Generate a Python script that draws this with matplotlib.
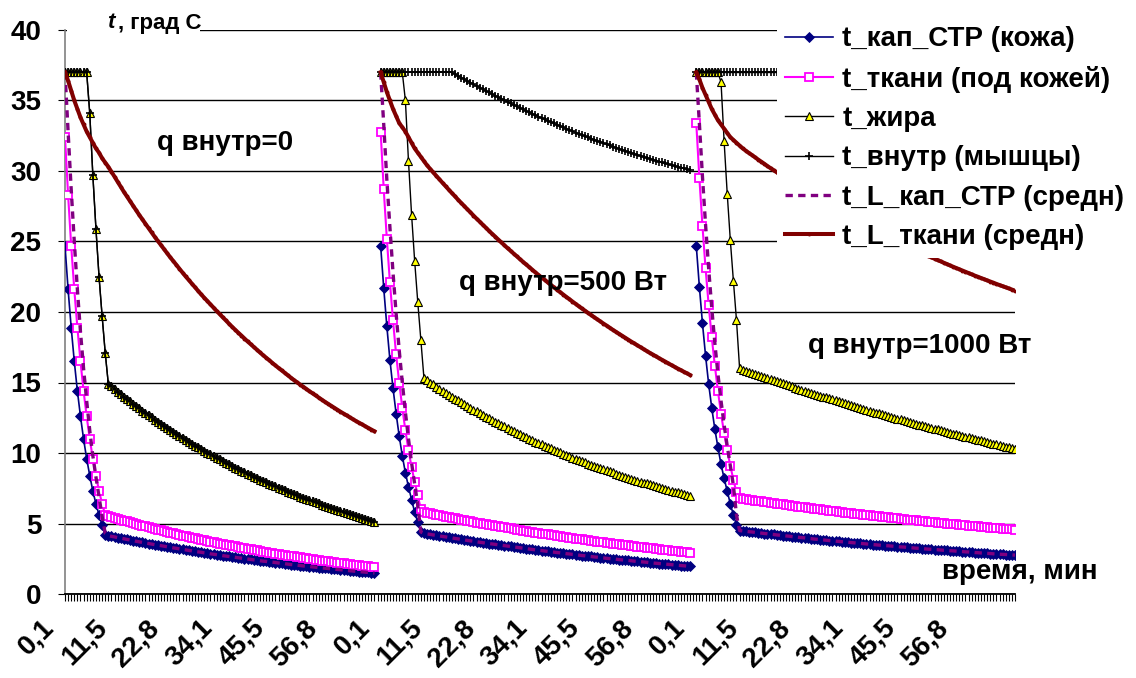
import matplotlib
matplotlib.use("Agg")
import matplotlib.pyplot as plt
from matplotlib.transforms import ScaledTranslation
from matplotlib.patches import Rectangle
import numpy as np

plt.rcParams['font.family'] = ['Liberation Sans', 'DejaVu Sans']

# ---------------- data ----------------
seg_len = 102          # categories per run
label_step = 17        # categories between tick labels
tick_labels = ["0,1", "11,5", "22,8", "34,1", "45,5", "56,8"]
run_labels = ["q внутр=0", "q внутр=500 Вт", "q внутр=1000 Вт"]
series_names = ["t_кап_СТР (кожа)", "t_ткани (под кожей)", "t_жира",
                "t_внутр (мышцы)", "t_L_кап_СТР (средн)", "t_L_ткани (средн)"]

# run 1 : q = 0
skin_1 = [24.7, 21.6, 18.9, 16.5, 14.4, 12.6, 11.0, 9.6, 8.4, 7.3, 6.4, 5.6, 4.9, 4.2,
          4.14, 4.09, 4.05, 4.00, 3.96, 3.92, 3.87, 3.83, 3.78, 3.74, 3.70, 3.66, 3.62, 3.58,
          3.54, 3.50, 3.46, 3.43, 3.39, 3.35, 3.31, 3.27, 3.24, 3.20, 3.16, 3.13, 3.09, 3.06, 3.02,
          2.99, 2.96, 2.92, 2.89, 2.85, 2.82, 2.79, 2.76, 2.72, 2.69, 2.66, 2.63, 2.60, 2.57, 2.54,
          2.51, 2.48, 2.45, 2.42, 2.39, 2.36, 2.33, 2.31, 2.28, 2.26, 2.23, 2.20, 2.17, 2.15, 2.12,
          2.09, 2.07, 2.04, 2.02, 1.99, 1.97, 1.95, 1.92, 1.90, 1.87, 1.85, 1.83, 1.81, 1.78, 1.76,
          1.74, 1.72, 1.70, 1.67, 1.65, 1.63, 1.61, 1.59, 1.57, 1.55, 1.53, 1.51, 1.49]
tissue_1 = [32.4, 28.3, 24.7, 21.6, 18.9, 16.5, 14.4, 12.6, 11.0, 9.6, 8.4, 7.3, 6.4, 5.6,
            5.53, 5.47, 5.40, 5.34, 5.27, 5.21, 5.15, 5.09, 5.03, 4.97, 4.91, 4.85, 4.80, 4.74,
            4.68, 4.62, 4.57, 4.51, 4.46, 4.40, 4.35, 4.30, 4.24, 4.19, 4.14, 4.09, 4.04, 4.00, 3.95,
            3.90, 3.85, 3.81, 3.76, 3.72, 3.67, 3.63, 3.58, 3.54, 3.49, 3.45, 3.41, 3.37, 3.32, 3.28,
            3.24, 3.20, 3.16, 3.13, 3.09, 3.05, 3.01, 2.98, 2.94, 2.91, 2.87, 2.83, 2.80, 2.76, 2.73,
            2.69, 2.66, 2.63, 2.59, 2.56, 2.53, 2.50, 2.47, 2.43, 2.40, 2.37, 2.34, 2.31, 2.29, 2.26,
            2.23, 2.20, 2.17, 2.15, 2.12, 2.09, 2.06, 2.04, 2.01, 1.99, 1.96, 1.93, 1.91]
fat_1 = [37.0, 37.0, 37.0, 37.0, 37.0, 37.0, 37.0, 37.0, 34.1, 29.7, 25.9, 22.5, 19.7, 17.1, 14.9,
         14.72, 14.54, 14.36, 14.18, 14.00, 13.83, 13.66, 13.50, 13.33, 13.16, 13.00, 12.84, 12.69, 12.53,
         12.37, 12.22, 12.07, 11.93, 11.78, 11.63, 11.49, 11.35, 11.21, 11.07, 10.93, 10.80, 10.67, 10.53, 10.40,
         10.27, 10.15, 10.03, 9.90, 9.78, 9.66, 9.54, 9.43, 9.31, 9.20, 9.08, 8.97, 8.86, 8.75, 8.64,
         8.53, 8.43, 8.33, 8.22, 8.12, 8.02, 7.92, 7.83, 7.73, 7.64, 7.54, 7.45, 7.36, 7.26, 7.17,
         7.08, 7.00, 6.91, 6.83, 6.74, 6.66, 6.58, 6.50, 6.42, 6.34, 6.26, 6.18, 6.11, 6.03, 5.96,
         5.88, 5.81, 5.74, 5.67, 5.60, 5.53, 5.46, 5.40, 5.33, 5.27, 5.20, 5.13]
inner_1 = fat_1  # muscle curve coincides with the fat curve when q = 0
lkap_1 = [37.0, 32.8, 28.7, 25.0, 21.6, 18.6, 16.0, 13.7, 11.6, 9.8, 8.3, 6.9, 5.5, 4.3] + skin_1[14:]
red_1 = [37.0, 36.4, 35.7, 35.0, 34.4, 33.8, 33.3, 32.8, 32.4, 32.0, 31.6, 31.3, 30.9, 30.6, 30.3,
         29.95, 29.60, 29.24, 28.89, 28.53, 28.20, 27.87, 27.54, 27.21, 26.88, 26.57, 26.26, 25.95, 25.64,
         25.33, 25.04, 24.75, 24.46, 24.17, 23.88, 23.61, 23.34, 23.06, 22.79, 22.52, 22.27, 22.01, 21.76, 21.50,
         21.25, 21.01, 20.78, 20.54, 20.31, 20.07, 19.85, 19.62, 19.40, 19.17, 18.95, 18.74, 18.53, 18.33, 18.12,
         17.91, 17.72, 17.52, 17.33, 17.13, 16.94, 16.76, 16.58, 16.39, 16.21, 16.03, 15.86, 15.69, 15.51, 15.34,
         15.17, 15.01, 14.85, 14.70, 14.54, 14.38, 14.23, 14.08, 13.93, 13.78, 13.63, 13.49, 13.35, 13.21, 13.07,
         12.93, 12.80, 12.67, 12.53, 12.40, 12.27, 12.15, 12.03, 11.90, 11.78, 11.66, 11.54]

# run 2 : q = 500 W
skin_2 = [24.7, 21.7, 19.0, 16.6, 14.6, 12.8, 11.2, 9.8, 8.6, 7.6, 6.7, 5.8, 5.1, 4.4,
          4.30, 4.26, 4.23, 4.19, 4.16, 4.12, 4.08, 4.05, 4.01, 3.98, 3.94, 3.91, 3.87, 3.84, 3.80,
          3.77, 3.74, 3.71, 3.67, 3.64, 3.61, 3.58, 3.55, 3.52, 3.49, 3.46, 3.43, 3.40, 3.37, 3.34,
          3.31, 3.28, 3.25, 3.22, 3.19, 3.16, 3.13, 3.10, 3.08, 3.05, 3.02, 2.99, 2.97, 2.94, 2.92,
          2.89, 2.86, 2.84, 2.81, 2.79, 2.76, 2.73, 2.71, 2.68, 2.66, 2.63, 2.61, 2.58, 2.56, 2.53,
          2.51, 2.49, 2.47, 2.44, 2.42, 2.40, 2.38, 2.36, 2.33, 2.31, 2.29, 2.27, 2.25, 2.22, 2.20,
          2.18, 2.16, 2.14, 2.12, 2.10, 2.08, 2.06, 2.04, 2.02, 2.00, 1.98, 1.96]
tissue_2 = [32.8, 28.7, 25.2, 22.1, 19.4, 17.0, 15.0, 13.2, 11.6, 10.2, 9.0, 7.95, 7.0, 6.0,
            5.80, 5.75, 5.71, 5.66, 5.62, 5.57, 5.53, 5.49, 5.44, 5.40, 5.36, 5.32, 5.28, 5.23, 5.19,
            5.15, 5.11, 5.07, 5.03, 4.99, 4.95, 4.91, 4.87, 4.84, 4.80, 4.76, 4.72, 4.68, 4.65, 4.61,
            4.57, 4.54, 4.50, 4.47, 4.43, 4.40, 4.36, 4.33, 4.29, 4.26, 4.22, 4.19, 4.16, 4.12, 4.09,
            4.06, 4.03, 4.00, 3.96, 3.93, 3.90, 3.87, 3.84, 3.81, 3.78, 3.75, 3.72, 3.69, 3.67, 3.64,
            3.61, 3.58, 3.55, 3.53, 3.50, 3.47, 3.44, 3.42, 3.39, 3.36, 3.33, 3.30, 3.28, 3.25, 3.23,
            3.20, 3.18, 3.15, 3.13, 3.10, 3.08, 3.06, 3.03, 3.01, 2.98, 2.96, 2.93]
fat_2 = [37.0, 37.0, 37.0, 37.0, 37.0, 37.0, 37.0, 37.0, 35.0, 30.7, 26.9, 23.6, 20.7, 18.0,
         15.30, 15.15, 15.00, 14.86, 14.71, 14.56, 14.42, 14.28, 14.14, 14.00, 13.86, 13.73, 13.60, 13.46, 13.33,
         13.20, 13.08, 12.95, 12.83, 12.70, 12.58, 12.46, 12.34, 12.23, 12.11, 11.99, 11.88, 11.77, 11.65, 11.54,
         11.43, 11.33, 11.22, 11.12, 11.01, 10.91, 10.81, 10.71, 10.61, 10.51, 10.41, 10.32, 10.23, 10.13, 10.04,
         9.95, 9.86, 9.77, 9.68, 9.59, 9.50, 9.42, 9.34, 9.25, 9.17, 9.09, 9.01, 8.93, 8.85, 8.77,
         8.69, 8.62, 8.54, 8.47, 8.39, 8.32, 8.25, 8.18, 8.11, 8.04, 7.97, 7.90, 7.84, 7.77, 7.71,
         7.64, 7.58, 7.51, 7.45, 7.38, 7.32, 7.26, 7.20, 7.15, 7.09, 7.03, 6.97]
inner_2 = [37.0, 37.0, 37.0, 37.0, 37.0, 37.0, 37.0, 37.0, 37.0, 37.0, 37.0, 37.0,
           37.0, 37.0, 37.0, 37.0, 37.0, 37.0, 37.0, 37.0, 37.0, 37.0, 37.0,
           37.00, 36.88, 36.75, 36.63, 36.51, 36.39, 36.27, 36.15, 36.03, 35.92, 35.80, 35.69, 35.57, 35.46, 35.34,
           35.23, 35.12, 35.01, 34.90, 34.79, 34.68, 34.58, 34.47, 34.37, 34.26, 34.16, 34.06, 33.96, 33.86, 33.76,
           33.66, 33.56, 33.47, 33.37, 33.28, 33.18, 33.09, 33.00, 32.91, 32.82, 32.73, 32.64, 32.56, 32.47, 32.39,
           32.30, 32.22, 32.14, 32.05, 31.97, 31.89, 31.81, 31.73, 31.66, 31.58, 31.50, 31.43, 31.36, 31.28, 31.21,
           31.14, 31.07, 31.00, 30.94, 30.87, 30.80, 30.74, 30.67, 30.61, 30.54, 30.48, 30.42, 30.36, 30.30, 30.24,
           30.18, 30.12, 30.07]
lkap_2 = [37.0, 33.3, 29.4, 26.0, 22.8, 19.9, 17.3, 15.0, 12.9, 11.0, 9.3, 7.8, 6.3, 4.4] + skin_2[14:]
red_2 = [37.0, 36.3, 35.6, 35.0, 34.4, 33.9, 33.4, 33.1, 32.8, 32.4, 32.0, 31.6, 31.3, 31.0, 30.7,
         30.40, 30.15, 29.90, 29.65, 29.41, 29.16, 28.92, 28.68, 28.44, 28.21, 27.97, 27.74, 27.52, 27.29, 27.07,
         26.84, 26.62, 26.41, 26.19, 25.98, 25.76, 25.55, 25.35, 25.14, 24.94, 24.73, 24.53, 24.34, 24.14, 23.95,
         23.75, 23.56, 23.37, 23.19, 23.00, 22.81, 22.63, 22.45, 22.28, 22.10, 21.92, 21.75, 21.58, 21.41, 21.24,
         21.07, 20.91, 20.74, 20.58, 20.41, 20.25, 20.10, 19.94, 19.79, 19.63, 19.48, 19.33, 19.18, 19.04, 18.89,
         18.74, 18.60, 18.46, 18.32, 18.18, 18.04, 17.90, 17.77, 17.63, 17.50, 17.36, 17.23, 17.10, 16.98, 16.85,
         16.72, 16.60, 16.48, 16.35, 16.23, 16.11, 15.99, 15.88, 15.76, 15.65, 15.53]

# run 3 : q = 1000 W
skin_3 = [24.7, 21.8, 19.2, 16.9, 14.9, 13.2, 11.7, 10.4, 9.2, 8.2, 7.3, 6.4, 5.6, 4.9,
          4.50, 4.47, 4.45, 4.42, 4.40, 4.37, 4.34, 4.32, 4.29, 4.27, 4.24, 4.22, 4.19, 4.17, 4.14,
          4.12, 4.10, 4.07, 4.05, 4.02, 4.00, 3.98, 3.95, 3.93, 3.90, 3.88, 3.86, 3.84, 3.81, 3.79,
          3.77, 3.75, 3.73, 3.71, 3.69, 3.67, 3.65, 3.63, 3.61, 3.59, 3.57, 3.55, 3.53, 3.51, 3.49,
          3.47, 3.45, 3.43, 3.42, 3.40, 3.38, 3.36, 3.34, 3.33, 3.31, 3.29, 3.27, 3.25, 3.24, 3.22,
          3.20, 3.18, 3.17, 3.15, 3.14, 3.12, 3.10, 3.09, 3.07, 3.06, 3.04, 3.02, 3.01, 2.99, 2.98,
          2.96, 2.94, 2.93, 2.91, 2.90, 2.88, 2.87, 2.85, 2.84, 2.82, 2.81, 2.80, 2.79, 2.77, 2.76]
tissue_3 = [33.4, 29.5, 26.1, 23.1, 20.5, 18.2, 16.2, 14.4, 12.8, 11.4, 10.2, 9.1, 8.1, 7.2,
            6.80, 6.77, 6.73, 6.70, 6.66, 6.63, 6.60, 6.57, 6.53, 6.50, 6.47, 6.44, 6.41, 6.38, 6.35,
            6.32, 6.29, 6.26, 6.23, 6.20, 6.17, 6.14, 6.11, 6.09, 6.06, 6.03, 6.00, 5.97, 5.95, 5.92,
            5.89, 5.86, 5.83, 5.81, 5.78, 5.75, 5.72, 5.70, 5.67, 5.65, 5.62, 5.60, 5.57, 5.55, 5.52,
            5.50, 5.48, 5.45, 5.43, 5.40, 5.38, 5.36, 5.33, 5.31, 5.28, 5.26, 5.24, 5.22, 5.19, 5.17,
            5.15, 5.13, 5.11, 5.08, 5.06, 5.04, 5.02, 5.00, 4.97, 4.95, 4.93, 4.91, 4.89, 4.87, 4.85,
            4.83, 4.81, 4.79, 4.77, 4.75, 4.73, 4.71, 4.69, 4.68, 4.66, 4.64, 4.62, 4.60, 4.59, 4.57]
fat_3 = [37.0, 37.0, 37.0, 37.0, 37.0, 37.0, 37.0, 37.0, 36.3, 32.1, 28.4, 25.1, 22.2, 19.4,
         16.00, 15.92, 15.84, 15.77, 15.69, 15.61, 15.53, 15.46, 15.38, 15.31, 15.23, 15.16, 15.08, 15.01, 14.93,
         14.86, 14.79, 14.72, 14.64, 14.57, 14.50, 14.43, 14.36, 14.28, 14.21, 14.14, 14.07, 14.00, 13.94, 13.87,
         13.80, 13.73, 13.66, 13.60, 13.53, 13.46, 13.39, 13.33, 13.26, 13.20, 13.13, 13.07, 13.00, 12.94, 12.87,
         12.81, 12.75, 12.69, 12.62, 12.56, 12.50, 12.44, 12.38, 12.31, 12.25, 12.19, 12.13, 12.07, 12.02, 11.96,
         11.90, 11.84, 11.78, 11.73, 11.67, 11.61, 11.55, 11.49, 11.44, 11.38, 11.32, 11.27, 11.22, 11.16, 11.11,
         11.05, 11.00, 10.94, 10.89, 10.83, 10.78, 10.73, 10.67, 10.62, 10.56, 10.51, 10.46, 10.41, 10.36, 10.31]
inner_3 = [37.0, 37.0, 37.0, 37.0, 37.0, 37.0, 37.0, 37.0, 37.0, 37.0, 37.0, 37.0, 37.0,
           37.0, 37.0, 37.0, 37.0, 37.0, 37.0, 37.0, 37.0, 37.0, 37.0, 37.0, 37.0, 37.0,
           37.0, 37.0, 37.0, 37.0, 37.0, 37.0, 37.0, 37.0, 37.0, 37.0, 37.0, 37.0, 37.0,
           37.0, 37.0, 37.0, 37.0, 37.0, 37.0, 37.0, 37.0, 37.0, 37.0, 37.0, 37.0, 37.0,
           37.0, 37.0, 37.0, 37.0, 37.0, 37.0, 37.0, 37.0, 37.0, 37.0, 37.0, 37.0, 37.0,
           37.0, 37.0, 37.0, 37.0, 37.0, 37.0, 37.0, 37.0, 37.0, 37.0, 37.0, 37.0, 37.0,
           37.0, 37.0, 37.0, 37.0, 37.0, 37.0, 37.0, 37.0, 37.0, 37.0, 37.0, 37.0, 37.0,
           37.0, 37.0, 37.0, 37.0, 37.0, 37.0, 37.0, 37.0, 37.0, 37.0, 37.0, 37.0, 37.0]
lkap_3 = [37.0, 33.4, 29.6, 26.2, 23.1, 20.3, 17.8, 15.6, 13.7, 12.0, 10.5, 9.1, 7.7, 5.6] + skin_3[14:]
red_3 = [37.0, 36.5, 35.9, 35.4, 34.9, 34.4, 34.0, 33.6, 33.3, 33.0, 32.7, 32.4, 32.2, 32.0, 31.8,
         31.60, 31.44, 31.28, 31.13, 30.97, 30.81, 30.66, 30.51, 30.35, 30.20, 30.05, 29.91, 29.76, 29.62, 29.47,
         29.33, 29.19, 29.05, 28.91, 28.77, 28.63, 28.50, 28.36, 28.23, 28.09, 27.96, 27.83, 27.70, 27.58, 27.45,
         27.32, 27.20, 27.07, 26.95, 26.82, 26.70, 26.58, 26.46, 26.35, 26.23, 26.11, 26.00, 25.88, 25.77, 25.65,
         25.54, 25.43, 25.32, 25.22, 25.11, 25.00, 24.89, 24.79, 24.68, 24.58, 24.47, 24.37, 24.27, 24.17, 24.07,
         23.97, 23.87, 23.78, 23.68, 23.59, 23.49, 23.40, 23.30, 23.21, 23.12, 23.03, 22.94, 22.85, 22.76, 22.67,
         22.58, 22.50, 22.41, 22.33, 22.24, 22.16, 22.08, 21.99, 21.91, 21.83, 21.75, 21.67, 21.59, 21.51]

runs = [
    [skin_1, tissue_1, fat_1, inner_1, lkap_1, red_1],
    [skin_2, tissue_2, fat_2, inner_2, lkap_2, red_2],
    [skin_3, tissue_3, fat_3, inner_3, lkap_3, red_3],
]

# ---------------- styles ----------------
styles = [
    dict(color='#000080', lw=1.2, marker='D', ms=5, mfc='#000080', mec='#000080', mew=0.6, zorder=3),
    dict(color='#FF00FF', lw=1.5, marker='s', ms=5.8, mfc='white', mec='#FF00FF', mew=1.3, zorder=4),
    dict(color='black', lw=1.0, marker='^', ms=5.2, mfc='#FFFF00', mec='black', mew=0.8, zorder=5),
    dict(color='black', lw=1.0, marker='+', ms=6, mew=1.2, zorder=6),
    dict(color='#800080', lw=2.4, ls=(0, (2.2, 1.6)), zorder=7),
    dict(color='#800000', lw=2.9, marker='o', ms=1.8, zorder=8),
]

FS = 20
W, H = 1136, 678
fig = plt.figure(figsize=(W / 100, H / 100), dpi=100)
x_left, x_right, y_top, y_bot = 65, 1015, 30, 594
ax = fig.add_axes([x_left / W, 1 - y_bot / H, (x_right - x_left) / W, (y_bot - y_top) / H])

n_cat = 2 * seg_len + len(skin_3)
handles = []
for r, series in enumerate(runs):
    for s, vals in enumerate(series):
        x = r * seg_len + np.arange(len(vals))
        ln, = ax.plot(x, vals, label=series_names[s] if r == 0 else None, **styles[s])
        if r == 0:
            handles.append(ln)

ax.set_xlim(0, n_cat - 1)
ax.set_ylim(0, 40)

# y axis
ax.set_yticks(np.arange(0, 41, 5))
ax.yaxis.grid(True, color='black', lw=1.0, zorder=0)
ax.set_axisbelow(True)
for lbl in ax.get_yticklabels():
    lbl.set_fontweight('bold')
    lbl.set_fontsize(FS)
ax.tick_params(axis='y', length=5, width=0.8, pad=12, colors='black')

# x axis: tick at every category, labels every 17 categories
major = [r * seg_len + k * label_step for r in range(3) for k in range(6)]
ax.set_xticks(major)
ax.set_xticklabels(tick_labels * 3, rotation=45, ha='right', va='top',
                   rotation_mode='anchor', fontweight='bold', fontsize=FS)
ax.set_xticks(np.arange(0, n_cat), minor=True)
ax.tick_params(axis='x', which='both', length=5, width=0.8, pad=10, direction='out')
shift = ScaledTranslation(-24 / 100, 0, fig.dpi_scale_trans)
for lbl in ax.get_xticklabels():
    lbl.set_transform(lbl.get_transform() + shift)

for side in ['top', 'right']:
    ax.spines[side].set_visible(False)
ax.spines['left'].set_color('#808080')
ax.spines['left'].set_linewidth(1.2)
ax.spines['bottom'].set_color('black')
ax.spines['bottom'].set_linewidth(1.3)

# axis title box (covers the top gridline on the left)
fig.add_artist(Rectangle((67 / W, 1 - 44 / H), (200 - 67) / W, 30 / H,
                         transform=fig.transFigure, facecolor='white', edgecolor='none', zorder=2))
fig.text(107 / W, 1 - 23 / H, "t", fontsize=16, fontweight='bold', style='italic',
         ha='left', va='center', zorder=3)
fig.text(118 / W, 1 - 23 / H, ", град С", fontsize=16, fontweight='bold',
         ha='left', va='center', zorder=3)

# run annotations
fig.text(225 / W, 1 - 143 / H, run_labels[0], fontsize=FS, fontweight='bold', ha='center', va='center')
fig.text(563 / W, 1 - 283 / H, run_labels[1], fontsize=FS, fontweight='bold', ha='center', va='center')
fig.text(920 / W, 1 - 346 / H, run_labels[2], fontsize=FS, fontweight='bold', ha='center', va='center')
fig.text(1098 / W, 1 - 572 / H, "время, мин", fontsize=FS, fontweight='bold', ha='right', va='center')

leg = fig.legend(handles=handles, loc='upper left', bbox_to_anchor=(777 / W, 1 - 18 / H),
                 prop={'weight': 'bold', 'size': FS}, frameon=True, fancybox=False,
                 handlelength=1.73, handletextpad=0.32, labelspacing=0.48, borderpad=0.3,
                 borderaxespad=0)
leg.get_frame().set_facecolor('white')
leg.get_frame().set_edgecolor('none')
leg.get_frame().set_alpha(1.0)
leg.set_zorder(10)

fig.savefig("out.png", dpi=100)
